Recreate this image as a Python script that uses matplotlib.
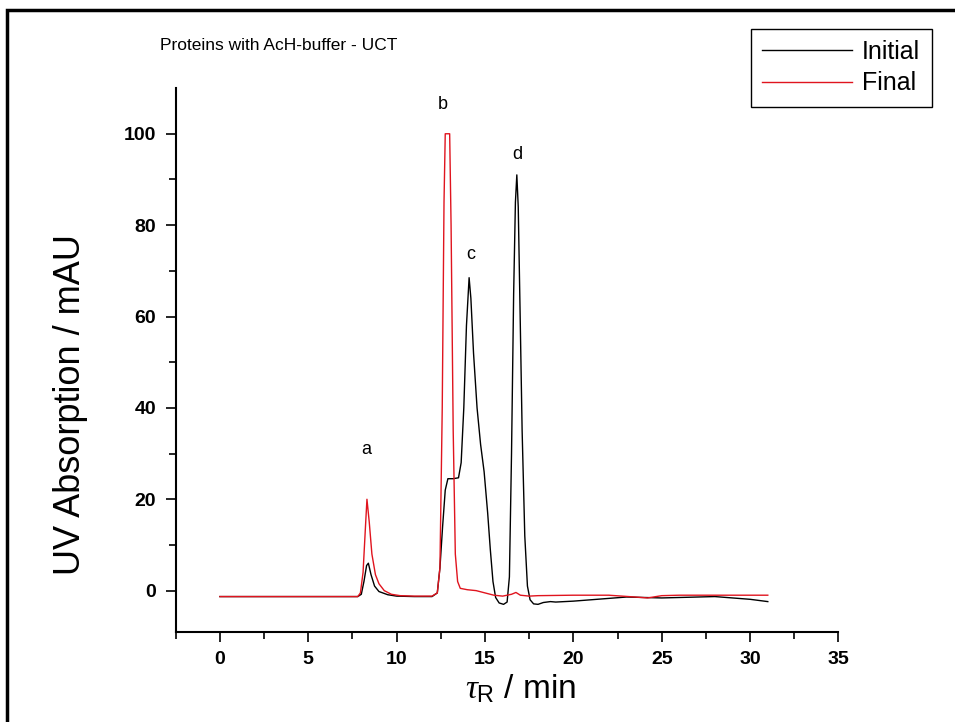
import matplotlib
matplotlib.use("Agg")
import matplotlib.pyplot as plt
from matplotlib.lines import Line2D
from matplotlib.patches import Rectangle

plt.rcParams['font.family'] = ['Liberation Sans', 'DejaVu Sans']
plt.rcParams['mathtext.fontset'] = 'custom'
plt.rcParams['mathtext.rm'] = 'Liberation Sans'
plt.rcParams['mathtext.it'] = 'Liberation Serif:italic'
plt.rcParams['mathtext.sf'] = 'Liberation Sans'

# Retention time (min) and absorbance (mAU)
t_initial = [0.0, 2.0, 4.0, 6.0, 7.8, 8.0, 8.15, 8.3, 8.4, 8.55, 8.75, 9.0, 9.5, 10.0,
             11.0, 12.0, 12.3, 12.45, 12.6, 12.75, 12.9, 13.2, 13.5, 13.65, 13.8,
             13.95, 14.1, 14.2, 14.35, 14.55, 14.75, 14.95, 15.15, 15.3, 15.45,
             15.6, 15.8, 16.05, 16.25, 16.38, 16.5, 16.62, 16.72, 16.8, 16.88,
             16.98, 17.1, 17.25, 17.4, 17.55, 17.75, 18.0, 18.3, 18.7, 19.0,
             20.0, 21.0, 22.0, 23.0, 24.0, 25.0, 26.0, 27.0, 28.0, 29.0, 30.0, 31.0]
v_initial = [-1.3, -1.3, -1.3, -1.3, -1.3, -0.8, 2.0, 5.5, 6.0, 3.5, 1.0, -0.2, -0.9, -1.2,
             -1.3, -1.3, -0.5, 5.0, 14.0, 22.0, 24.5, 24.5, 24.7, 28.0, 40.0,
             58.0, 68.5, 64.0, 52.0, 40.0, 32.0, 26.0, 17.0, 9.0, 2.0,
             -1.5, -2.7, -3.0, -2.5, 3.0, 30.0, 65.0, 85.0, 91.0, 84.0,
             62.0, 35.0, 12.0, 1.0, -2.0, -2.9, -3.0, -2.6, -2.4, -2.5,
             -2.3, -2.0, -1.7, -1.4, -1.5, -1.6, -1.5, -1.4, -1.3, -1.6, -1.9, -2.4]

t_final = [0.0, 2.0, 4.0, 6.0, 7.8, 7.95, 8.1, 8.25, 8.32, 8.45, 8.6, 8.8, 9.0, 9.3,
           9.7, 10.2, 11.0, 12.0, 12.3, 12.45, 12.58, 12.68, 12.75, 13.0, 13.08,
           13.2, 13.32, 13.45, 13.6, 14.0, 14.5, 15.0, 15.5, 16.0, 16.5, 16.75,
           17.0, 17.5, 18.0, 20.0, 22.0, 23.5, 24.2, 25.0, 26.0, 28.0, 30.0, 31.0]
v_final = [-1.3, -1.3, -1.3, -1.3, -1.3, -0.5, 4.0, 15.0, 20.0, 15.0, 8.0, 3.5, 1.5, 0.0,
           -0.8, -1.1, -1.2, -1.2, -0.5, 5.0, 40.0, 85.0, 100.0, 100.0, 80.0,
           35.0, 8.0, 2.0, 0.5, 0.2, 0.0, -0.5, -1.0, -1.2, -0.8, -0.4,
           -1.0, -1.2, -1.1, -1.0, -1.0, -1.4, -1.6, -1.1, -1.0, -1.0, -1.0, -1.0]

peak_labels = ['a', 'b', 'c', 'd']
peak_label_t = [8.3, 12.6, 14.2, 16.8]
peak_label_v = [31.0, 106.5, 73.5, 95.5]

series_names = ['Initial', 'Final']
series_colors = ['black', '#e0141e']

fig = plt.figure(figsize=(9.55, 7.22), dpi=100)
ax = fig.add_axes([0.184, 0.125, 0.694, 0.753])

ax.plot(t_initial, v_initial, color=series_colors[0], lw=1.0)
ax.plot(t_final, v_final, color=series_colors[1], lw=1.0)

for lab, tx, vy in zip(peak_labels, peak_label_t, peak_label_v):
    ax.text(tx, vy, lab, ha='center', va='center', fontsize=13)

ax.set_xlim(-2.5, 35)
ax.set_ylim(-9, 110)
ax.set_xticks([0, 5, 10, 15, 20, 25, 30, 35])
ax.set_xticks([-2.5, 2.5, 7.5, 12.5, 17.5, 22.5, 27.5, 32.5], minor=True)
ax.set_yticks([0, 20, 40, 60, 80, 100])
ax.set_yticks([10, 30, 50, 70, 90], minor=True)
ax.tick_params(which='major', direction='out', length=7, width=1.2, labelsize=14, pad=7)
ax.tick_params(which='minor', direction='out', length=5, width=1.2)
for lbl in ax.get_xticklabels() + ax.get_yticklabels():
    lbl.set_fontweight('bold')
for s in ['top', 'right']:
    ax.spines[s].set_visible(False)
for s in ['left', 'bottom']:
    ax.spines[s].set_linewidth(1.5)

fig.text(521 / 955, 1 - 689 / 722, r'$\tau_{\mathsf{R}}$ / min', fontsize=24,
         ha='center', va='center')
fig.text(71 / 955, 1 - 405 / 722, 'UV Absorption / mAU', fontsize=26,
         rotation=90, ha='center', va='center')

fig.text(160 / 955, 1 - 46 / 722, 'Proteins with AcH-buffer - UCT', fontsize=12.5,
         ha='left', va='center')

handles = [Line2D([], [], color=c, lw=1.0) for c in series_colors]
leg = fig.legend(handles, series_names, loc='upper right',
                 bbox_to_anchor=(944 / 955, 1 - 16 / 722), fontsize=18,
                 frameon=True, fancybox=False, framealpha=1, edgecolor='black',
                 handlelength=3.6, handletextpad=0.4, borderpad=0.45, labelspacing=0.3)
leg.get_frame().set_linewidth(1.0)

# outer frame of the figure
fig.patches.append(Rectangle((7 / 955, -0.05), 1.1, 1 - 10 / 722 + 0.05,
                             transform=fig.transFigure, fill=False,
                             edgecolor='black', lw=2.5))

fig.savefig('out.png', dpi=100)
